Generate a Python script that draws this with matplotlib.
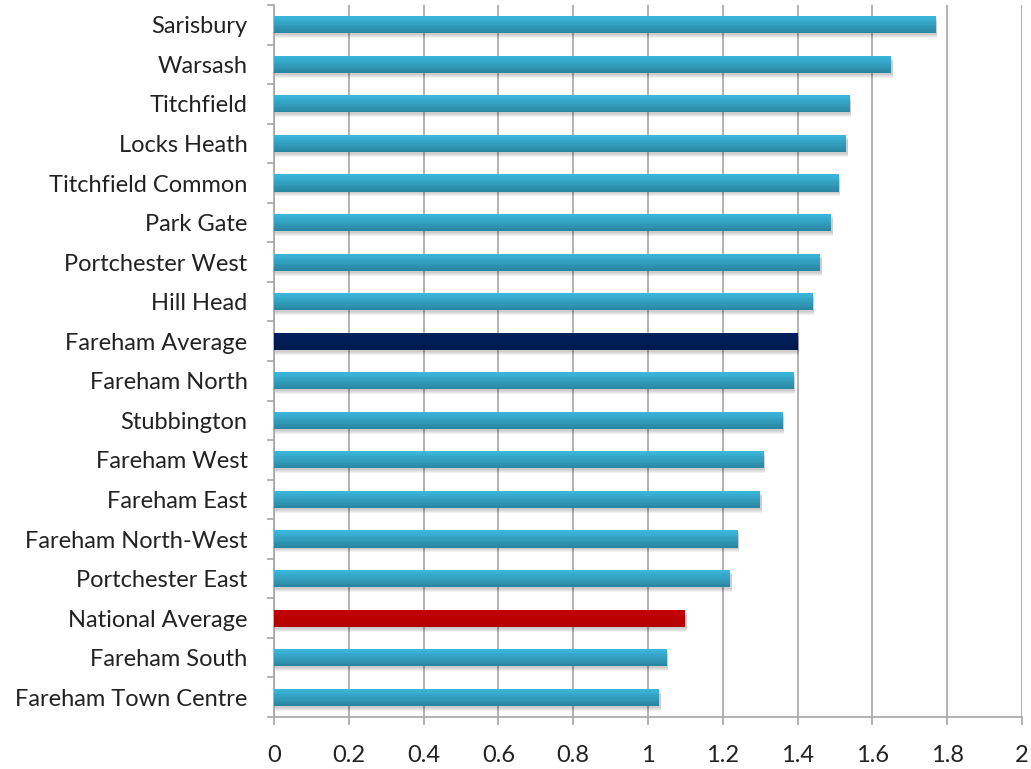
import matplotlib
matplotlib.use("Agg")
import matplotlib.pyplot as plt
import matplotlib.colors as mcolors
import numpy as np

categories = ["Sarisbury", "Warsash", "Titchfield", "Locks Heath", "Titchfield Common",
              "Park Gate", "Portchester West", "Hill Head", "Fareham Average",
              "Fareham North", "Stubbington", "Fareham West", "Fareham East",
              "Fareham North-West", "Portchester East", "National Average",
              "Fareham South", "Fareham Town Centre"]
values = [1.77, 1.65, 1.54, 1.53, 1.51, 1.49, 1.46, 1.44, 1.40, 1.39, 1.36,
          1.31, 1.30, 1.24, 1.22, 1.10, 1.05, 1.03]
xticks = [0, 0.2, 0.4, 0.6, 0.8, 1, 1.2, 1.4, 1.6, 1.8, 2]
xticklabels = ["0", "0.2", "0.4", "0.6", "0.8", "1", "1.2", "1.4", "1.6", "1.8", "2"]

plt.rcParams['font.family'] = ['Lato', 'DejaVu Sans']

fig = plt.figure(figsize=(10.31, 7.69), dpi=100)
ax = fig.add_axes([274/1031, 1 - 717/769, (1022 - 274)/1031, (717 - 5)/769])

n = len(categories)
y = np.arange(n)[::-1]
h = 0.43

special = {"Fareham Average": ("#00205e", "#001a50"),
           "National Average": ("#c40000", "#b30000")}
default = ("#3bb6da", "#2a87a3")

nstrip = 10
for yi, cat, v in zip(y, categories, values):
    # soft shadow below bar
    for k in range(4):
        ax.barh(yi - 0.05 - 0.025 * k, v, height=h, left=0.004, color="#000000",
                alpha=0.05, zorder=2, linewidth=0)
    c_top, c_bot = [np.array(mcolors.to_rgb(c)) for c in special.get(cat, default)]
    ax.barh(yi, v, height=h, color=c_top, zorder=3, linewidth=0)
    for k in range(nstrip):
        t = k / (nstrip - 1)
        col = c_top * (1 - t) + c_bot * t
        sh = h / nstrip
        yc = yi + h / 2 - sh * (k + 0.5)
        ax.barh(yc, v, height=sh * 1.05, color=col, zorder=3, linewidth=0)

ax.set_xlim(0, 2)
ax.set_ylim(-0.5, n - 0.5)
ax.set_xticks(xticks)
ax.set_xticklabels(xticklabels, fontsize=17, color="#222222")
ax.set_yticks(y)
ax.set_yticklabels(categories, fontsize=17, color="#222222")
ax.set_yticks(np.arange(-0.5, n, 1.0), minor=True)

ax.grid(axis="x", color="#a6a6a6", linewidth=1.2, zorder=0)
ax.set_axisbelow(True)
for s in ["top", "right"]:
    ax.spines[s].set_visible(False)
ax.spines["left"].set_color("#a6a6a6")
ax.spines["bottom"].set_color("#a6a6a6")
ax.spines["left"].set_linewidth(1.2)
ax.spines["bottom"].set_linewidth(1.2)
ax.tick_params(axis="y", which="major", length=0, pad=19)
ax.tick_params(axis="y", which="minor", length=5, color="#a6a6a6", width=1.2)
ax.tick_params(axis="x", length=6, color="#a6a6a6", width=1.2, pad=14)

fig.savefig("out.png", dpi=100, facecolor="white")
